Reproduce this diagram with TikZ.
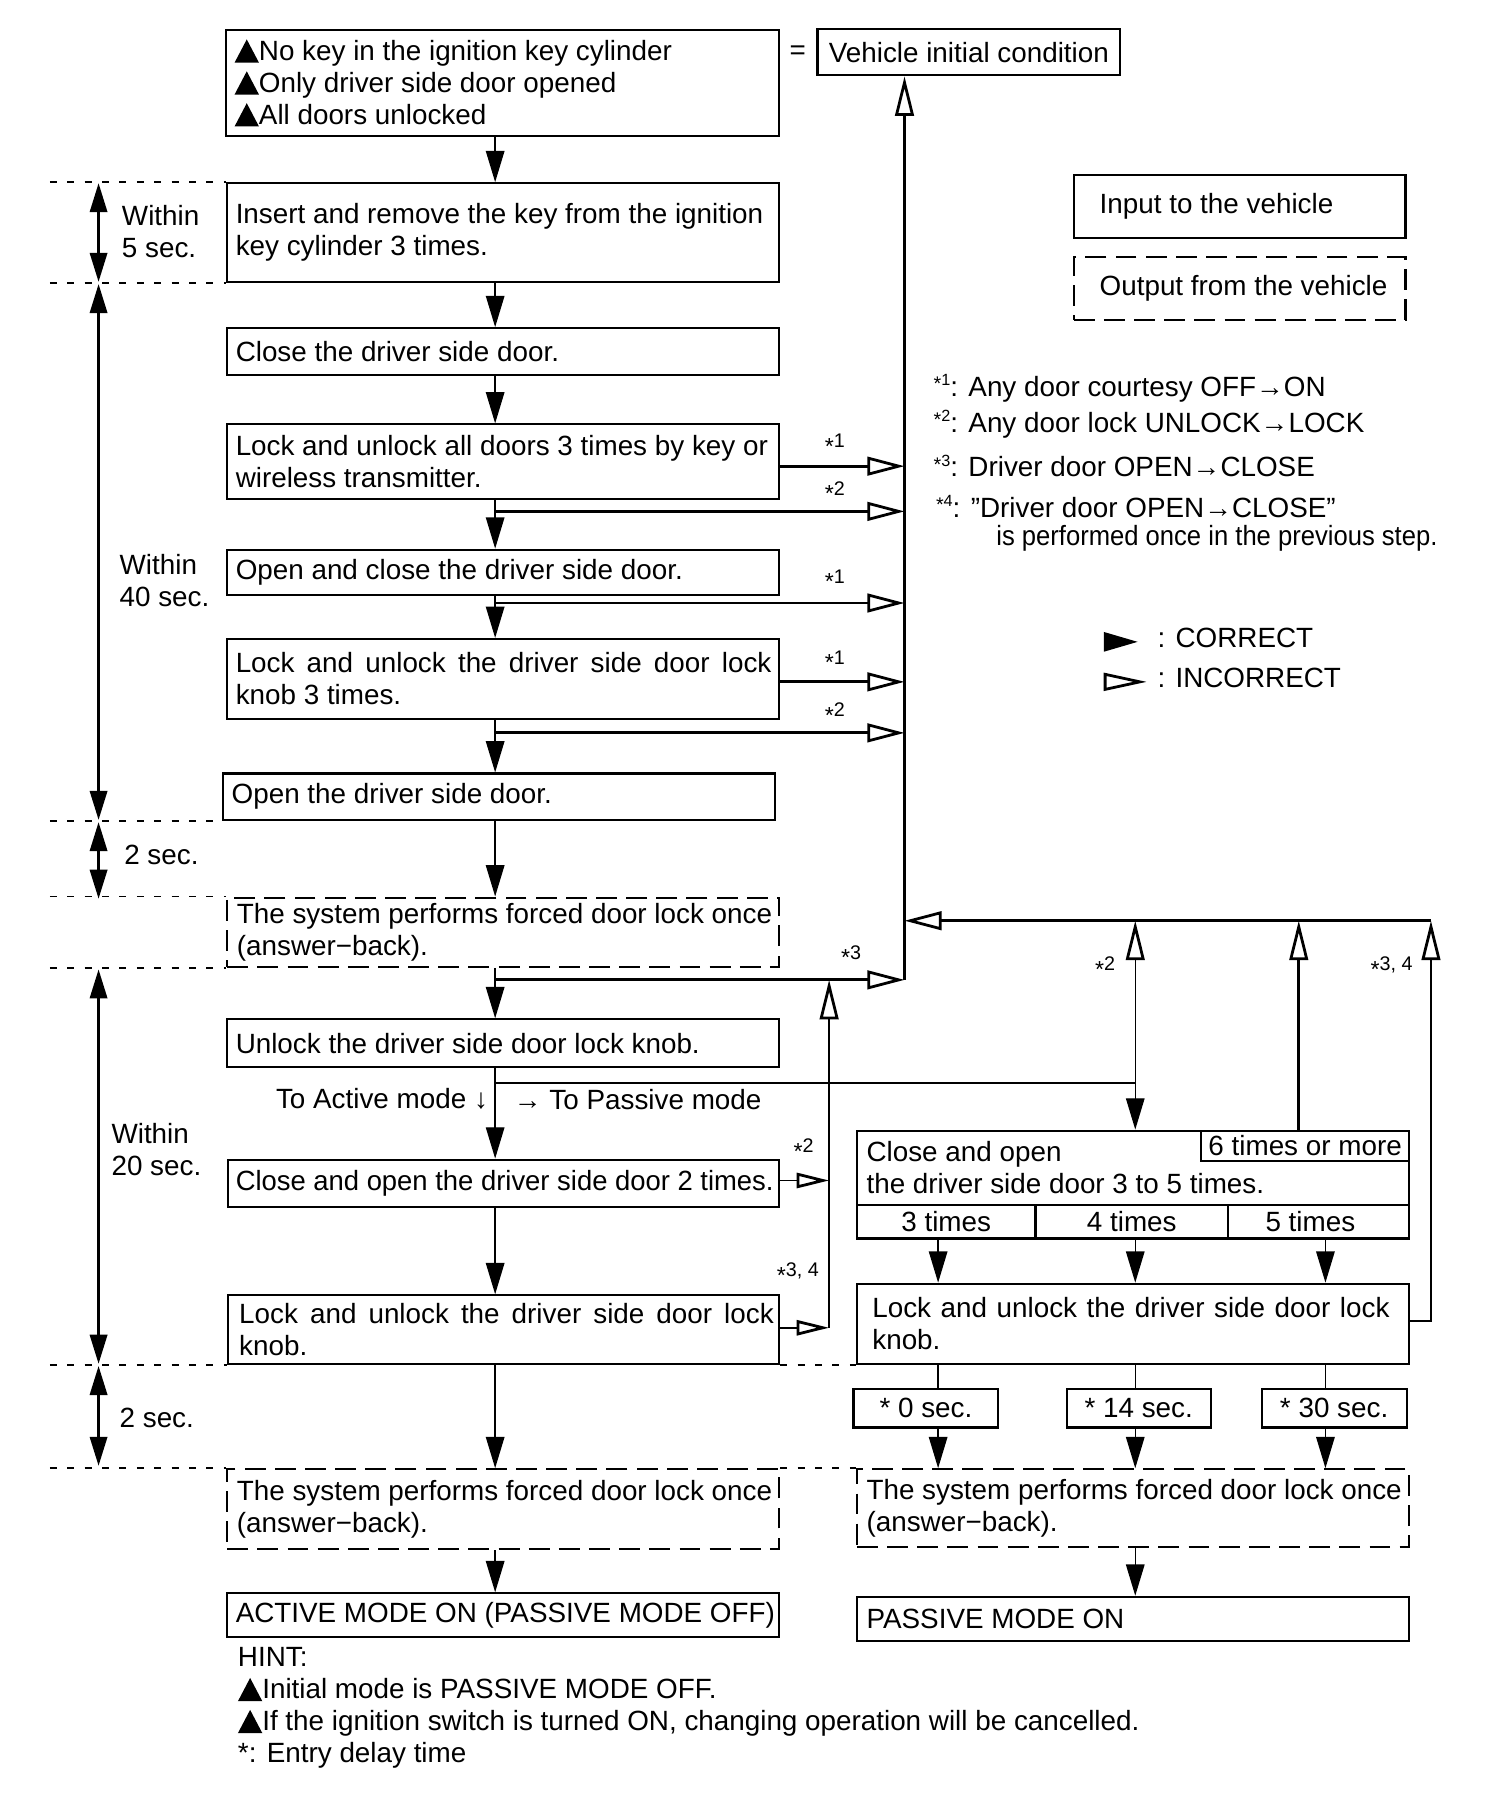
\documentclass[tikz,border=0pt]{standalone}
\usepackage{fontspec}
\usepackage{graphicx}
\setmainfont{Liberation Sans}
\usetikzlibrary{arrows.meta}
\newcommand\fnt{\fontsize{24}{27.5}\selectfont}
\newcommand\sml{\fontsize{17}{17}\selectfont}
\newcommand\tri{\begin{tikzpicture}[x=1pt,y=1pt,baseline=0pt]\fill (0,-2)--(21,-2)--(10.5,18)--cycle;\end{tikzpicture}}
\newcommand\stl[1]{{\fontsize{20}{20}\selectfont\raisebox{-5.5pt}{*}}#1}
\newcommand\nsup[1]{\raisebox{9pt}{{\fontsize{17}{17}\selectfont\raisebox{-4pt}{*}}{\fontsize{14}{14}\selectfont #1}}}
\begin{document}
\begin{tikzpicture}[x=1pt,y=-1pt,
 box/.style={draw, line width=1.8pt, inner sep=0pt, font=\fnt},
 dbox/.style={box, dash pattern=on 18pt off 8pt},
 txt/.style={inner sep=0pt, align=left, font=\fnt, anchor=west},
 lab/.style={inner sep=0pt, font=\sml},
 flow/.style={line width=1.2pt, -{Triangle[length=27pt,width=16pt]}},
 thinl/.style={line width=1.2pt},
 thickl/.style={line width=2.4pt},
 branch/.style={line width=2.4pt, -{Triangle[open,length=32pt,width=16pt,line width=2.4pt]}},
 openup/.style={-{Triangle[open,length=34pt,width=16pt,line width=2.4pt]}},
 shortopen/.style={line width=1.5pt, -{Triangle[open,length=28pt,width=13pt,line width=2.4pt]}},
 dbl/.style={line width=2pt, {Triangle[length=25pt,width=15pt]}-{Triangle[length=25pt,width=15pt]}},
 sep/.style={line width=1.5pt, dash pattern=on 6pt off 9pt}]
\useasboundingbox (0,0) rectangle (1297,1562.6);

% ---------- left column boxes ----------
\node[box, minimum width=477pt, minimum height=91pt] (b1) at (433.5,71.5) {};
\node[txt] (t1) at ([xshift=8pt]b1.west) {\tri No key in the ignition key cylinder\\\tri Only driver side door opened\\\tri All doors unlocked};
\node[inner sep=0pt, font=\fnt] (eq) at (688,45) {=};
\node[box, minimum width=261pt, minimum height=40pt] (vic) at (835.5,45) {Vehicle initial condition};

\node[box, minimum width=476pt, minimum height=85pt] (b2) at (434,200.5) {};
\node[txt] (t2) at ([xshift=8pt]b2.west) {Insert and remove the key from the ignition\\key cylinder 3 times.};

\node[box, minimum width=476pt, minimum height=40pt] (b3) at (434,303) {};
\node[txt] (t3) at ([xshift=8pt]b3.west) {Close the driver side door.};

\node[box, minimum width=476pt, minimum height=64pt] (b4) at (434,398) {};
\node[txt] (t4) at ([xshift=8pt]b4.west) {Lock and unlock all doors 3 times by key or\\wireless transmitter.};

\node[box, minimum width=476pt, minimum height=39pt] (b5) at (434,493.5) {};
\node[txt] (t5) at ([xshift=8pt]b5.west) {Open and close the driver side door.};

\node[box, minimum width=476pt, minimum height=69pt] (b6) at (434,585.5) {};
\node[txt] (t6) at ([xshift=8pt]b6.west) {\makebox[462pt][s]{Lock and unlock the driver side door lock}\\knob 3 times.};

\node[box, minimum width=476pt, minimum height=40pt] (b7) at (430,687) {};
\node[txt] (t7) at ([xshift=8.5pt]b7.west) {Open the driver side door.};

\node[dbox, minimum width=476pt, minimum height=60pt] (b8) at (434,804) {};
\node[txt] (t8) at ([xshift=9pt]b8.west) {The system performs forced door lock once\\(answer−back).};

\node[box, minimum width=476pt, minimum height=41pt] (b9) at (434,899.5) {};
\node[txt] (t9) at ([xshift=8pt]b9.west) {Unlock the driver side door lock knob.};

\node[txt, anchor=east] (am) at (421,948) {To Active mode ↓};
\node[txt] (pm) at (443,948) {→ To Passive mode};

\node[box, minimum width=475pt, minimum height=41pt] (b10) at (434.5,1020.5) {};
\node[txt] (t10) at ([xshift=7pt]b10.west) {\scalebox{0.985}[1]{Close and open the driver side door 2 times.}};

\node[box, minimum width=475pt, minimum height=59pt] (b11) at (434.5,1146.5) {};
\node[txt] (t11) at ([xshift=10pt]b11.west) {\makebox[461pt][s]{Lock and unlock the driver side door lock}\\knob.};

\node[dbox, minimum width=476pt, minimum height=69pt] (b12) at (434,1301.5) {};
\node[txt] (t12) at ([xshift=9pt]b12.west) {The system performs forced door lock once\\(answer−back).};

\node[box, minimum width=476pt, minimum height=38pt] (b13) at (434,1393) {};
\node[txt] (t13) at ([xshift=8pt]b13.west) {ACTIVE MODE ON (PASSIVE MODE OFF)};

\node[txt] (hint) at (205,1473) {HINT:\\\tri Initial mode is PASSIVE MODE OFF.\\\tri If the ignition switch is turned ON, changing operation will be cancelled.\\\mbox{*}: Entry delay time};

% ---------- legend and notes ----------
\node[box, minimum width=286pt, minimum height=54pt] (inp) at (1069,178) {};
\node[txt] (tinp) at ([xshift=23pt]inp.west) {Input to the vehicle};
\node[dbox, minimum width=286pt, minimum height=54pt] (outp) at (1069,249) {};
\node[txt] (toutp) at ([xshift=23pt]outp.west) {Output from the vehicle};

\node[txt] (n1) at (805,335) {\nsup{1}: Any door courtesy OFF→ON};
\node[txt] (n2) at (805,366) {\nsup{2}: Any door lock UNLOCK→LOCK};
\node[txt] (n3) at (805,402) {\nsup{3}: Driver door OPEN→CLOSE};
\node[txt] (n4) at (807,437) {\nsup{4}: "Driver door OPEN→CLOSE”};
\node[txt] (n5) at (859,464) {\scalebox{0.92}[1]{is performed once in the previous step.}};

\fill (952,545) -- (981,553.5) -- (952,562) -- cycle;
\node[txt] (cor) at (998,550) {: CORRECT};
\draw[line width=2.4pt] (953,581.5) -- (983,588) -- (953,594.5) -- cycle;
\node[txt] (inc) at (998,585) {: INCORRECT};

% ---------- right column boxes ----------
\node[box, minimum width=476pt, minimum height=64pt] (r1) at (977,1007) {};
\node[txt] (tr1) at ([xshift=9pt]r1.west) {Close and open\\the driver side door 3 to 5 times.};
\node[box, minimum width=179pt, minimum height=26pt] (six) at (1125.5,988) {6 times or more};
\node[box, minimum width=154pt, minimum height=29pt] (c3) at (816,1053.5) {3 times};
\node[box, minimum width=166pt, minimum height=29pt] (c4) at (976,1053.5) {4 times};
\node[box, minimum width=156pt, minimum height=29pt] (c5) at (1137,1053.5) {\hspace{-14pt}5 times};

\node[box, minimum width=476pt, minimum height=69pt] (r2) at (977,1141.5) {};
\node[txt] (tr2) at ([xshift=14pt]r2.west) {\makebox[446pt][s]{Lock and unlock the driver side door lock}\\knob.};

\node[box, minimum width=125pt, minimum height=33pt] (s0) at (798.5,1214.5) {* 0 sec.};
\node[box, minimum width=124pt, minimum height=33pt] (s14) at (982,1214.5) {* 14 sec.};
\node[box, minimum width=125pt, minimum height=33pt] (s30) at (1150.5,1214.5) {* 30 sec.};

\node[dbox, minimum width=476pt, minimum height=67pt] (r3) at (977,1300.5) {};
\node[txt] (tr3) at ([xshift=9pt]r3.west) {The system performs forced door lock once\\(answer−back).};

\node[box, minimum width=476pt, minimum height=38pt] (r4) at (977,1396) {};
\node[txt] (tr4) at ([xshift=9pt]r4.west) {PASSIVE MODE ON};

% ---------- left time labels ----------
\node[txt] (w5) at (105,200) {Within\\5 sec.};
\node[txt] (w40) at (103,501) {Within\\40 sec.};
\node[txt] (s2) at (107,737) {2 sec.};
\node[txt] (w20) at (96,991) {Within\\20 sec.};
\node[txt] (s22) at (103,1223) {2 sec.};

% ---------- small labels ----------
\node[lab] (l1) at (720,383) {\stl{1}};
\node[lab] (l2) at (720,424) {\stl{2}};
\node[lab] (l3) at (720,500) {\stl{1}};
\node[lab] (l4) at (720,570) {\stl{1}};
\node[lab] (l5) at (720,615) {\stl{2}};
\node[lab] (l6) at (734,824) {\stl{3}};
\node[lab] (l7) at (953,834) {\stl{2}};
\node[lab] (l8) at (1200,834) {\stl{3, 4}};
\node[lab] (l9) at (693,991) {\stl{2}};
\node[lab] (l10) at (688,1098) {\stl{3, 4}};

% ---------- coordinates ----------
\coordinate (mx) at (427,0);
\coordinate (lx) at (43,0);
\coordinate (rx) at (780,845);
\coordinate (a1) at (672,402);
\coordinate (a2) at (427,441);
\coordinate (a3) at (427,520);
\coordinate (a4) at (672,588);
\coordinate (a5) at (427,632);
\coordinate (a6) at (427,845);
\coordinate (a7) at (427,934);
\coordinate (p2) at (979,934);
\coordinate (tr) at (1234,794);
\coordinate (q6) at (1120,975);
\coordinate (q34) at (1234,1139);
\coordinate (u1) at (715,1018);
\coordinate (u2) at (715,1145);
\coordinate (k3) at (809,0);
\coordinate (k4) at (979,0);
\coordinate (k5) at (1143,0);

% ---------- main chain ----------
\draw[flow] (b1.south -| mx) -- (b2.north -| mx);
\draw[flow] (b2.south -| mx) -- (b3.north -| mx);
\draw[flow] (b3.south -| mx) -- (b4.north -| mx);
\draw[flow] (b4.south -| mx) -- (b5.north -| mx);
\draw[flow] (b5.south -| mx) -- (b6.north -| mx);
\draw[flow] (b6.south -| mx) -- (b7.north -| mx);
\draw[flow] (b7.south -| mx) -- (b8.north -| mx);
\draw[flow] (b8.south -| mx) -- (b9.north -| mx);
\draw[flow] (b9.south -| mx) -- (b10.north -| mx);
\draw[flow] (b10.south -| mx) -- (b11.north -| mx);
\draw[flow] (b11.south -| mx) -- (b12.north -| mx);
\draw[flow] (b12.south -| mx) -- (b13.north -| mx);

% ---------- branches to the return line ----------
\draw[branch] (a1) -- (a1 -| rx);
\draw[branch] (a2) -- (a2 -| rx);
\draw[branch] (a3) -- (a3 -| rx);
\draw[branch] (a4) -- (a4 -| rx);
\draw[branch] (a5) -- (a5 -| rx);
\draw[branch] (a6) -- (rx);
\draw[thickl, openup] (rx) -- (rx |- vic.south);

% ---------- passive mode path ----------
\draw[branch] (tr) -- (tr -| rx);
\draw[thinl] (a7) -- (p2);
\draw[thinl, openup] (p2) -- (p2 |- tr);
\draw[flow] (p2) -- (p2 |- r1.north);
\draw[thickl, openup] (q6) -- (q6 |- tr);
\draw[thinl, openup] (r2.east |- q34) -- (q34) -- (tr);

\draw[shortopen] (b10.east |- u1) -- (u1);
\draw[shortopen] (b11.east |- u2) -- (u2);
\draw[thinl, openup] (u2) -- (u2 |- a6);

\draw[flow] (c3.south -| k3) -- (r2.north -| k3);
\draw[flow] (c4.south -| k4) -- (r2.north -| k4);
\draw[flow] (c5.south -| k5) -- (r2.north -| k5);
\draw[thinl] (r2.south -| k3) -- (s0.north -| k3);
\draw[thinl] (r2.south -| k4) -- (s14.north -| k4);
\draw[thinl] (r2.south -| k5) -- (s30.north -| k5);
\draw[flow] (s0.south -| k3) -- (r3.north -| k3);
\draw[flow] (s14.south -| k4) -- (r3.north -| k4);
\draw[flow] (s30.south -| k5) -- (r3.north -| k5);
\draw[flow] (r3.south -| k4) -- (r4.north -| k4);

% ---------- time arrows ----------
\coordinate (d1) at (85,158);
\coordinate (d2) at (85,243);
\coordinate (d3) at (85,245);
\coordinate (d4) at (85,707);
\coordinate (d5) at (85,709);
\coordinate (d6) at (85,775);
\coordinate (d7) at (85,836);
\coordinate (d8) at (85,1176);
\coordinate (d9) at (85,1178);
\coordinate (d10) at (85,1264);
\draw[dbl] (d1) -- (d2);
\draw[dbl] (d3) -- (d4);
\draw[dbl] (d5) -- (d6);
\draw[dbl] (d7) -- (d8);
\draw[dbl] (d9) -- (d10);

% ---------- time separators ----------
\draw[sep] (b2.north west -| lx) -- (b2.north west);
\draw[sep] (b2.south west -| lx) -- (b2.south west);
\draw[sep] (b7.south west -| lx) -- (b7.south west);
\draw[sep] (b8.north west -| lx) -- (b8.north west);
\draw[sep] (b8.south west -| lx) -- (b8.south west);
\draw[sep] (b11.south west -| lx) -- (b11.south west);
\draw[sep] (b11.south east) -- (r2.south west);
\draw[sep] (b12.north west -| lx) -- (b12.north west);
\draw[sep] (b12.north east) -- (r3.north west);
\end{tikzpicture}
\end{document}
